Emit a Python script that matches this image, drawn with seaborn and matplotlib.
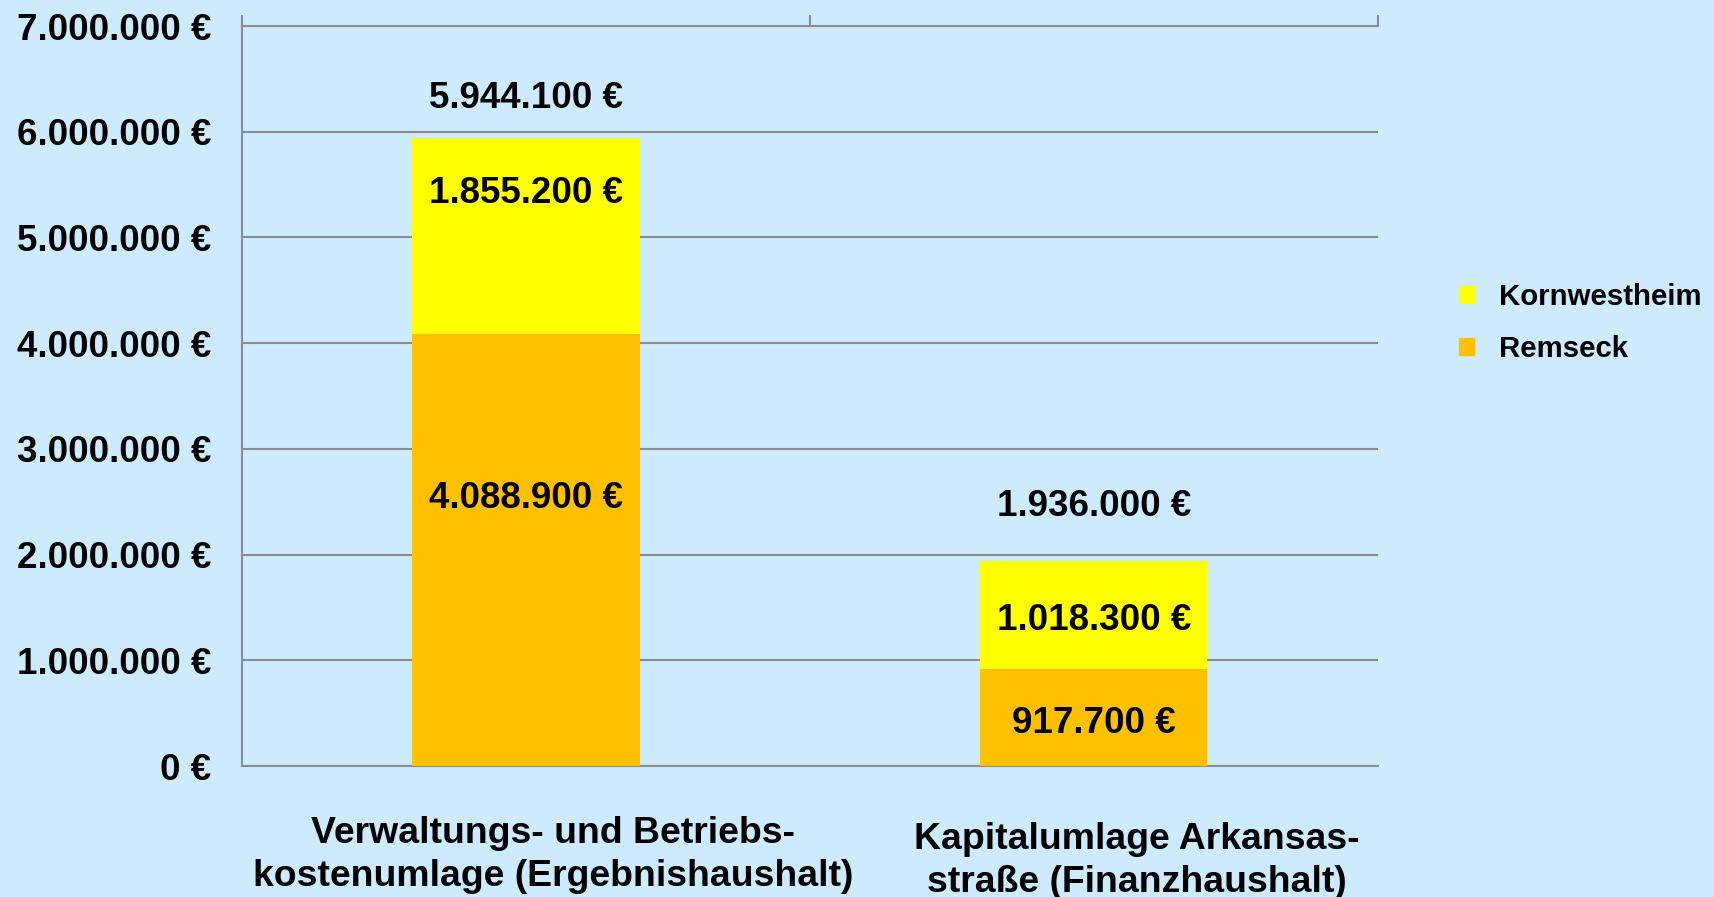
import pandas as pd
import matplotlib.pyplot as plt
import matplotlib.transforms as mtransforms
import seaborn as sns
from matplotlib.patches import Patch

# --------------------------
# DATA
# --------------------------
categories = [
    "Verwaltungs- und Betriebs-\nkostenumlage (Ergebnishaushalt)",
    "Kapitalumlage Arkansas-\nstraße (Finanzhaushalt)",
]
remseck = [4088900, 917700]
kornwestheim = [1855200, 1018300]
totals = [r + k for r, k in zip(remseck, kornwestheim)]

# label heights (data units), as placed in the original chart
remseck_label_y = [2580000, 458850]
korn_label_y = [5470000, 1426900]
total_label_y = [6370000, 2510000]

ytick_values = [0, 1000000, 2000000, 3000000, 4000000, 5000000, 6000000, 7000000]

# --------------------------
# STYLE
# --------------------------
sns.set_style("white")
plt.rcParams['font.family'] = ['Liberation Sans', 'DejaVu Sans']
plt.rcParams['font.weight'] = 'bold'
plt.rcParams['text.color'] = 'black'
plt.rcParams['xtick.labelcolor'] = 'black'
plt.rcParams['ytick.labelcolor'] = 'black'

bg = "#CCEBFF"
yellow = "#FFFF00"
orange = "#FFC000"
grey = "#8C8C8C"
fs = 26.5

df = pd.DataFrame({"cat": categories, "Remseck": remseck,
                   "Kornwestheim": kornwestheim, "total": totals})

fig = plt.figure(figsize=(17.14, 8.97), dpi=100)
fig.patch.set_facecolor(bg)
ax = fig.add_axes([0.1412, 0.146, 0.8038 - 0.1412, 0.971 - 0.146])
ax.set_facecolor(bg)

# stacked bars: full total in yellow, Remseck on top in orange
sns.barplot(data=df, x="cat", y="total", color=yellow, width=0.4,
            saturation=1, linewidth=0, ax=ax, zorder=3)
sns.barplot(data=df, x="cat", y="Remseck", color=orange, width=0.4,
            saturation=1, linewidth=0, ax=ax, zorder=4)

ax.set_xlim(-0.5, 1.5)
ax.set_ylim(0, 7000000)
ax.set_yticks(ytick_values)
ax.set_yticklabels([f"{v:,.0f} €".replace(",", ".") for v in ytick_values],
                   fontsize=fs, fontweight='bold')
ax.yaxis.grid(True, color=grey, linewidth=1.5, zorder=0)
ax.set_axisbelow(True)
ax.tick_params(axis='y', direction='out', length=8, width=1.5, color=grey,
               labelcolor='black', pad=14)

ax.set_xticks([0, 1])
ax.set_xticklabels(categories, fontsize=26.9, fontweight='bold', linespacing=1.3)
ax.tick_params(axis='x', which='major', length=0, pad=36, labelcolor='black')
ax.set_xticks([-0.5, 0.5, 1.5], minor=True)
ax.tick_params(axis='x', which='minor', bottom=False, top=True,
               direction='out', length=8, width=1.5, color=grey)
ax.set_xlabel("")
ax.set_ylabel("")

# the category captions sit a little right of the bar centres in the original
for lab, (dx, dy) in zip(ax.get_xticklabels(), [(27, 0), (43, -6)]):
    lab.set_transform(lab.get_transform() +
                      mtransforms.ScaledTranslation(dx / 100, dy / 100, fig.dpi_scale_trans))

for side in ["left", "bottom", "top"]:
    ax.spines[side].set_color(grey)
    ax.spines[side].set_linewidth(1.5)
ax.spines["right"].set_visible(False)

def fmt(v):
    return f"{v:,.0f} €".replace(",", ".")

def label(i, y, v):
    ax.annotate(fmt(v), (i, y), xytext=(0, -4), textcoords='offset points',
                ha='center', va='center', fontsize=fs, fontweight='bold',
                color='black', zorder=5)

for i in range(len(categories)):
    label(i, remseck_label_y[i], remseck[i])
    label(i, korn_label_y[i], kornwestheim[i])
    label(i, total_label_y[i], totals[i])

handles = [Patch(color=yellow, label="Kornwestheim"),
           Patch(color=orange, label="Remseck")]
fig.legend(handles=handles, loc='center left', bbox_to_anchor=(0.836, 0.64),
           frameon=False, prop={'size': 21.2, 'weight': 'bold'},
           handlelength=0.5, handleheight=0.5, handletextpad=0.85,
           labelspacing=0.8)

fig.savefig("out.png", dpi=100, facecolor=bg)
